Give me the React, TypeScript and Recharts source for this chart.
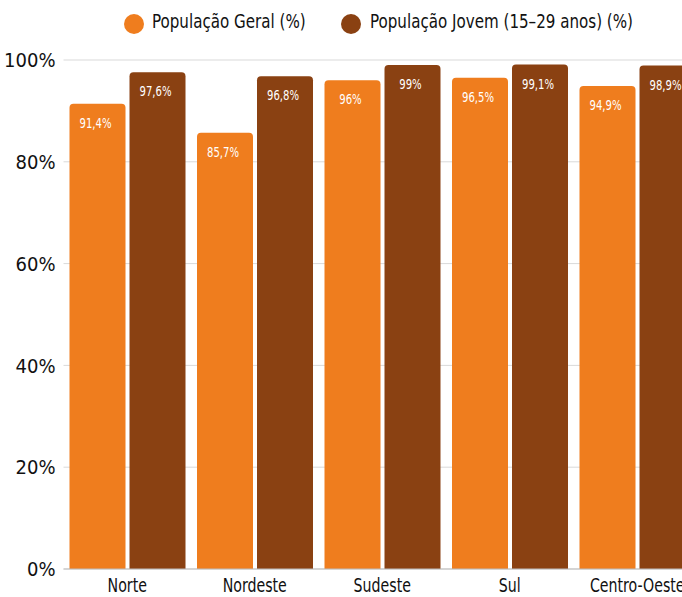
import React from "react";
import {
  BarChart,
  Bar,
  XAxis,
  YAxis,
  CartesianGrid,
  Legend,
  LabelList,
} from "recharts";

const categories = ["Norte", "Nordeste", "Sudeste", "Sul", "Centro-Oeste"];
const geral = [91.4, 85.7, 96, 96.5, 94.9];
const jovem = [97.6, 96.8, 99, 99.1, 98.9];
const yTicks = [0, 20, 40, 60, 80, 100];
const seriesNames = ["População Geral (%)", "População Jovem (15–29 anos) (%)"];

const ORANGE = "#ef7d1e";
const BROWN = "#8a4112";
const FONT = "'DejaVu Sans Condensed', 'Liberation Sans Narrow', sans-serif";

const data = categories.map((name, i) => ({
  name,
  geral: geral[i],
  jovem: jovem[i],
}));

const fmt = (v: number) => `${String(v).replace(".", ",")}%`;

const BarLabel = (props: any) => {
  const { x, y, width, value } = props;
  const cx = x + width / 2 - 2;
  return (
    <text
      x={0}
      y={0}
      transform={`translate(${cx},${y + 24}) scale(0.8,1)`}
      textAnchor="middle"
      fill="#fff"
      fontSize={14}
      fontFamily={FONT}
    >
      {fmt(value)}
    </text>
  );
};

const XTick = (props: any) => {
  const { x, y, payload } = props;
  return (
    <g transform={`translate(${x},${y})`}>
      <text
        x={0}
        y={0}
        dy={15}
        transform="scale(0.83,1)"
        textAnchor="middle"
        fill="#111"
        fontSize={19}
        fontFamily={FONT}
      >
        {payload.value}
      </text>
    </g>
  );
};

const legendPos = [
  { dot: 124, text: 152 },
  { dot: 341, text: 370 },
];

const LegendContent = () => (
  <div style={{ position: "relative", height: 40, fontFamily: FONT, fontSize: 20, color: "#111" }}>
    {[ORANGE, BROWN].map((c, i) => (
      <React.Fragment key={i}>
        <span
          style={{
            position: "absolute",
            left: legendPos[i].dot,
            top: 14,
            width: 20,
            height: 20,
            borderRadius: "50%",
            background: c,
          }}
        />
        <span
          style={{
            position: "absolute",
            left: legendPos[i].text,
            top: 9,
            whiteSpace: "nowrap",
            transform: "scaleX(0.84)",
            transformOrigin: "left center",
            lineHeight: "24px",
          }}
        >
          {seriesNames[i]}
        </span>
      </React.Fragment>
    ))}
  </div>
);

export default function App() {
  return (
    <div style={{ width: 682, height: 597, overflow: "hidden", background: "#fff" }}>
      <style>{`body{margin:0;overflow:hidden}`}</style>
      <BarChart
        width={720}
        height={597}
        data={data}
        margin={{ top: 20, right: 19, bottom: 0, left: 0 }}
        barCategoryGap={6}
        barGap={4}
      >
        <Legend verticalAlign="top" height={40} content={<LegendContent />} wrapperStyle={{ top: 0, left: 0, width: 720 }} />
        <CartesianGrid vertical={false} stroke="#d9d9d9" />
        <XAxis
          dataKey="name"
          height={28}
          tickLine={false}
          axisLine={{ stroke: "#bdbdbd" }}
          tick={<XTick />}
          interval={0}
        />
        <YAxis
          width={63.5}
          domain={[0, 100]}
          ticks={yTicks}
          tickFormatter={(v) => `${v}%`}
          tickLine={false}
          axisLine={false}
          tick={{ fill: "#111", fontSize: 20, fontFamily: FONT }}
        />
        <Bar dataKey="geral" fill={ORANGE} radius={[4, 4, 0, 0]} isAnimationActive={false}>
          <LabelList dataKey="geral" content={<BarLabel />} />
        </Bar>
        <Bar dataKey="jovem" fill={BROWN} radius={[4, 4, 0, 0]} isAnimationActive={false}>
          <LabelList dataKey="jovem" content={<BarLabel />} />
        </Bar>
      </BarChart>
    </div>
  );
}
